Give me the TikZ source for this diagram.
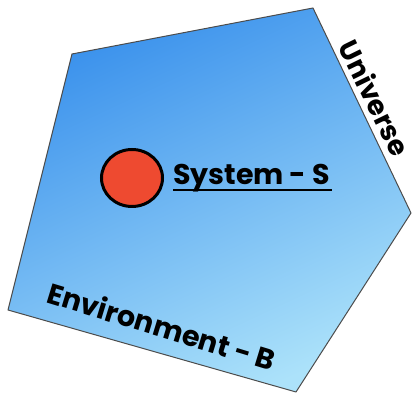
\documentclass[tikz,border=0pt]{standalone}
\usepackage{fontspec}
\setmainfont{Poppins}
\usepackage{xcolor}
\usetikzlibrary{calc}
\definecolor{blueDark}{RGB}{58,145,236}
\definecolor{blueLight}{RGB}{172,226,250}
\definecolor{sysRed}{RGB}{238,74,48}

\begin{document}
\begin{tikzpicture}[x=1pt,y=1pt,
		label/.style={font=\fontsize{28.5}{28.5}\selectfont\bfseries, inner sep=0pt, text=black}]
			
			\useasboundingbox (0,0) rectangle (412,395);
			
			% Universe (pentagon)
			\coordinate (tl) at (72,341);
			\coordinate (tr) at (313,387);
			\coordinate (r)  at (411,182);
			\coordinate (b)  at (296,3);
			\coordinate (l)  at (8,85);
			\shade[top color=blueDark, bottom color=blueLight, shading angle=25]
				(tl) -- (tr) -- (r) -- (b) -- (l) -- cycle;
			\draw[black!70, line width=1pt, line join=round]
				(tl) -- (tr) -- (r) -- (b) -- (l) -- cycle;
			
			% System
			\draw[line width=3pt, fill=sysRed] (132,217) ellipse (30.5 and 28.5);
			\node[label, anchor=base west] (sys) at (173,210) {System - S};
			\draw[line width=1.2pt] ($(sys.base west)+(0,-5)$) -- ($(sys.base east)+(2,-5)$);
			
			% Labels
			\node[label, font=\fontsize{27.5}{27.5}\selectfont\bfseries, rotate=-64] (univ) at (375,297) {Universe};
			\node[label, rotate=-17] (env) at (162,69) {Environment - B};
			
		\end{tikzpicture}
\end{document}
